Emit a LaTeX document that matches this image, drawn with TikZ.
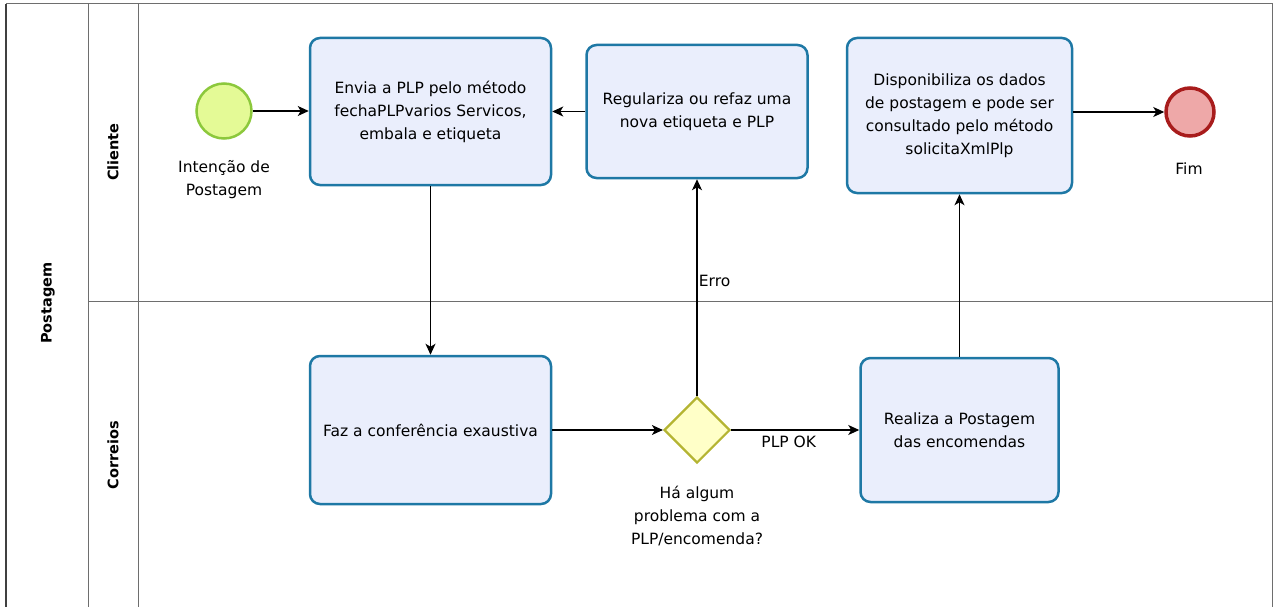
\documentclass[tikz,border=0pt]{standalone}
\usepackage{fontspec}
\setmainfont{DejaVu Sans}
\usetikzlibrary{shapes.geometric, arrows.meta}
\definecolor{taskfill}{RGB}{234,238,252}
\definecolor{taskline}{RGB}{30,120,165}
\definecolor{startfill}{RGB}{228,250,150}
\definecolor{startline}{RGB}{140,200,60}
\definecolor{endfill}{RGB}{238,168,168}
\definecolor{endline}{RGB}{168,28,28}
\definecolor{gatefill}{RGB}{255,255,200}
\definecolor{gateline}{RGB}{180,180,50}
\definecolor{laneline}{RGB}{110,110,110}

\begin{document}
\begin{tikzpicture}[x=1pt, y=-1pt, ->, >={Stealth[length=11pt, width=10pt, inset=3pt]},
    font=\fontsize{15.5}{23}\selectfont,
    task/.style={draw=taskline, fill=taskfill, line width=2.5pt, rounded corners=10pt,
      align=center, inner sep=0pt},
    startev/.style={circle, draw=startline, fill=startfill, line width=2.5pt, minimum size=55pt},
    endev/.style={circle, draw=endline, fill=endfill, line width=3.5pt, minimum size=48pt},
    gate/.style={diamond, aspect=1, draw=gateline, fill=gatefill, line width=2.2pt,
      minimum size=66pt, inner sep=0pt},
    lbl/.style={align=center},
    flow/.style={line width=1.2pt},
    lane/.style={font=\fontsize{14.5}{16}\selectfont\bfseries, rotate=90}]
      \useasboundingbox (0,0) rectangle (1274,607);
      % pool and lanes
      \draw [-, black!75, line width=1.4pt] (6,607) -- (6,4);
      \draw [-, laneline, line width=1pt] (6,4) -- (1272,4) -- (1272,607);
      \draw [-, laneline, line width=1pt] (88,4) -- (88,607);
      \draw [-, laneline, line width=1pt] (138,4) -- (138,607);
      \draw [-, laneline, line width=1pt] (88,301) -- (1272,301);
      \node [lane] (pool) at (48,303) {Postagem};
      \node [lane] (cliente) at (113,152) {Cliente};
      \node [lane] (correios) at (113,455) {Correios};
      % events and tasks
      \node [startev] (inicio) at (224,111) {};
      \node [lbl] (inicioLbl) at (224,180) {Intenção de\\Postagem};
      \node [task, minimum width=241pt, minimum height=147pt] (envia) at (430.5,111.5)
        {Envia a PLP pelo método\\fechaPLPvarios Servicos,\\embala e etiqueta};
      \node [task, minimum width=221pt, minimum height=133pt] (regulariza) at (697,111.5)
        {Regulariza ou refaz uma\\nova etiqueta e PLP};
      \node [task, minimum width=225pt, minimum height=155pt] (disponibiliza) at (959.5,115.5)
        {Disponibiliza os dados\\de postagem e pode ser\\consultado pelo método\\solicitaXmlPlp};
      \node [endev] (fim) at (1190,112) {};
      \node [lbl] (fimLbl) at (1189,169) {Fim};
      \node [task, minimum width=241pt, minimum height=148pt] (confere) at (430.5,430)
        {Faz a conferência exaustiva};
      \node [gate] (problema) at (697,430) {};
      \node [lbl] (problemaLbl) at (697,516) {Há algum\\problema com a\\PLP/encomenda?};
      \node [task, minimum width=198pt, minimum height=144pt] (realiza) at (959.5,430)
        {Realiza a Postagem\\das encomendas};
      % flows
      \draw [flow] (inicio) -- (envia.west |- inicio);
      \draw [flow] (regulariza) -- (envia.east |- regulariza);
      \draw [flow] (disponibiliza.east |- fim) -- (fim);
      \draw [flow] (envia) -- (confere);
      \draw [flow] (confere) -- (problema);
      \draw [flow] (problema) -- node [pos=0.53, right, xshift=-2pt] (erro) {Erro} (regulariza);
      \draw [flow] (problema) -- node [below=2pt, pos=0.45] (ok) {PLP OK} (realiza);
      \draw [flow] (realiza) -- (disponibiliza);
  \end{tikzpicture}
\end{document}
